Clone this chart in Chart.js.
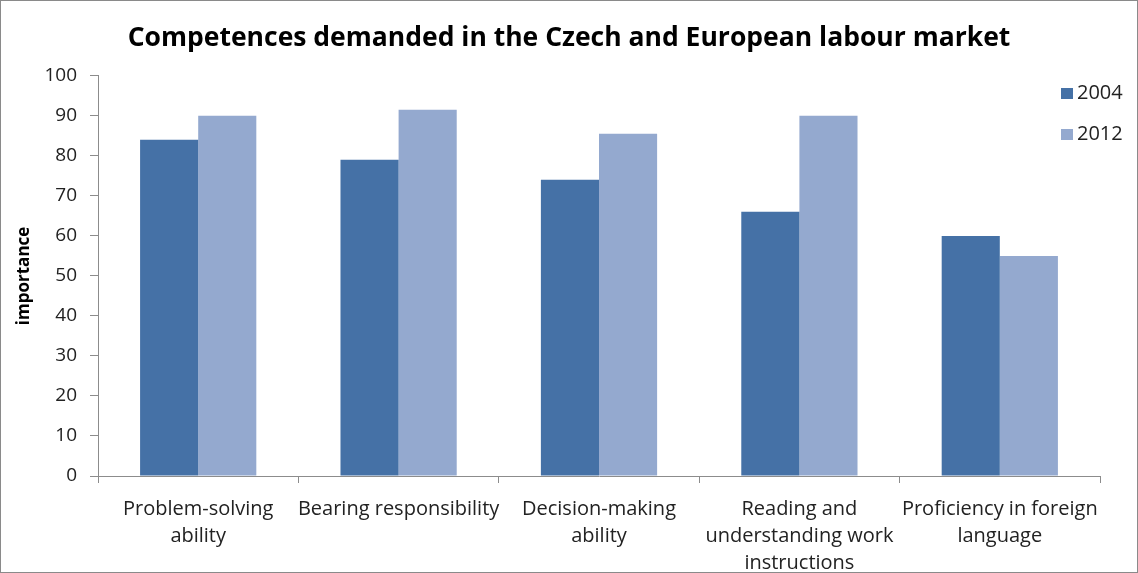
<!DOCTYPE html>
<html>
<head>
<meta charset="utf-8">
<script src="https://cdn.jsdelivr.net/npm/chart.js@4.4.1/dist/chart.umd.min.js"></script>
<style>
  html, body { margin: 0; padding: 0; background: #fff; }
  #wrap { position: relative; width: 1136px; height: 571px; border: 1px solid #8a8a8a; }
</style>
</head>
<body>
<div id="wrap"><canvas id="barChart" width="1136" height="571"></canvas></div>
<script>
const categories = [
  ['Problem-solving', 'ability'],
  'Bearing responsibility',
  ['Decision-making', 'ability'],
  ['Reading and', 'understanding work', 'instructions'],
  ['Proficiency in foreign', 'language']
];
const values2004 = [84, 79, 74, 66, 60];
const values2012 = [90, 91.5, 85.5, 90, 55];
const yTicks = [0, 10, 20, 30, 40, 50, 60, 70, 80, 90, 100];

const FONT = '"Open Sans", Lato, sans-serif';
const axisGrey = '#8c8c8c';

// small legend in the top right corner, over the plot
const cornerLegend = {
  id: 'cornerLegend',
  afterDraw(chart) {
    const c = chart.ctx;
    c.save();
    c.font = '20px ' + FONT;
    c.textBaseline = 'middle';
    chart.data.datasets.forEach((ds, i) => {
      const y = 92 + i * 41;
      c.fillStyle = ds.backgroundColor;
      c.fillRect(1060, y - 5, 12, 11);
      c.fillStyle = '#222';
      c.fillText(ds.label, 1076, y);
    });
    c.restore();
  }
};

const ctx = document.getElementById('barChart').getContext('2d');

const barChart = new Chart(ctx, {
  type: 'bar',
  data: {
    labels: categories,
    datasets: [
      { label: '2004', data: values2004, backgroundColor: 'rgb(69,113,166)' },
      { label: '2012', data: values2012, backgroundColor: 'rgb(148,169,207)' }
    ]
  },
  options: {
    responsive: false,
    animation: false,
    datasets: { bar: { categoryPercentage: 0.58, barPercentage: 1 } },
    plugins: {
      legend: { display: false },
      tooltip: { enabled: false },
      title: {
        display: true,
        text: 'Competences demanded in the Czech and European labour market',
        color: '#000',
        font: { family: FONT, size: 26.5, weight: 'bold' },
        padding: { top: 22, bottom: 21 }
      }
    },
    scales: {
      x: {
        grid: { display: true, drawOnChartArea: false, color: axisGrey, tickLength: 7, offset: true },
        border: { color: axisGrey, width: 1 },
        ticks: {
          color: '#222',
          font: { family: FONT, size: 20, lineHeight: 1.35 },
          padding: 13,
          maxRotation: 0,
          autoSkip: false
        },
        afterFit(scale) { scale.height = 96; }
      },
      y: {
        min: 0,
        max: 100,
        afterBuildTicks(scale) { scale.ticks = yTicks.map(v => ({ value: v })); },
        grid: { display: true, drawOnChartArea: false, color: axisGrey, tickLength: 8 },
        border: { color: axisGrey, width: 1 },
        ticks: {
          color: '#222',
          font: { family: FONT, size: 19 },
          padding: 13
        },
        title: {
          display: true,
          text: 'importance',
          color: '#000',
          font: { family: FONT, size: 17, weight: 'bold' },
          padding: { top: 13, bottom: 0 }
        },
        afterFit(scale) { scale.width = 97; }
      },
      // empty right-hand strip so the plot stops short of the edge
      gap: {
        position: 'right',
        display: true,
        grid: { display: false },
        border: { display: false },
        ticks: { display: false },
        afterFit(scale) { scale.width = 37; }
      }
    }
  },
  plugins: [cornerLegend]
});
</script>
</body>
</html>
